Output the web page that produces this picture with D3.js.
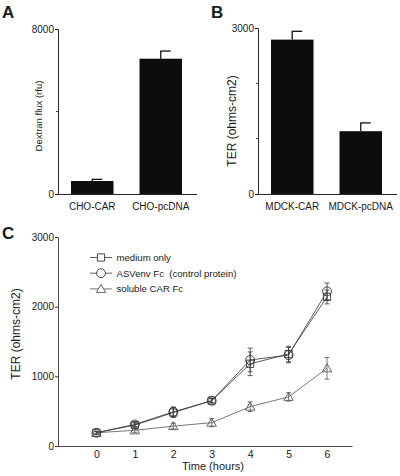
<!DOCTYPE html>
<html><head><meta charset="utf-8">
<script src="https://cdn.jsdelivr.net/npm/d3@7"></script>
<style>
html,body{margin:0;padding:0;background:#fff;}
text{font-family:"Liberation Sans",Arial,Helvetica,sans-serif;fill:#1a1a1a;}
</style></head>
<body><svg id="c" width="400" height="476"></svg>
<script>
// Panel A data
const catsA = ["CHO-CAR", "CHO-pcDNA"];
const valsA = [630, 6560];
const errA = [80, 370];
const ticksA = [0, 8000];
const minorA = [4000];
// Panel B data
const catsB = ["MDCK-CAR", "MDCK-pcDNA"];
const valsB = [2790, 1135];
const errB = [150, 150];
const ticksB = [0, 3000];
const minorB = [1000, 2000];
// Panel C data
const hours = [0, 1, 2, 3, 4, 5, 6];
const ticksCy = [0, 1000, 2000, 3000];
const seriesNames = ["medium only", "ASVenv Fc  (control protein)", "soluble CAR Fc"];
const medium = [190, 300, 480, 650, 1180, 1320, 2140];
const mediumErr = [20, 30, 70, 30, 170, 110, 100];
const asvenv = [190, 310, 490, 650, 1235, 1305, 2220];
const asvenvErr = [20, 30, 70, 30, 170, 110, 120];
const soluble = [190, 225, 285, 335, 565, 705, 1115];
const solubleErr = [20, 30, 40, 60, 70, 60, 155];

const svg = d3.select("#c");
const ink = "#111";

function barPanel(g, cats, vals, errs, ticks, minor, yMax, x0, x1, yTop, letter, letterX, ylab, ylabX, ylabY, ylabSize) {
  const x = d3.scaleBand().domain(cats).range([x0, x1 - 2]).paddingInner(0.38).paddingOuter(0.19);
  const y = d3.scaleLinear().domain([0, yMax]).range([194, yTop]);
  const ya = g.append("g").attr("transform", `translate(${x0},0)`)
    .call(d3.axisLeft(y).tickValues(ticks).tickSize(3).tickPadding(1).tickFormat(d3.format("d")));
  ya.select(".domain").attr("stroke", ink).attr("stroke-width", 0.9);
  ya.selectAll(".tick line").attr("stroke", ink);
  ya.selectAll("text").attr("font-size", 10).attr("fill", "#1a1a1a").style("font-family", "Liberation Sans, Arial");
  g.selectAll(".minor").data(minor).join("line")
    .attr("x1", x0 - 2).attr("x2", x0).attr("y1", d => y(d)).attr("y2", d => y(d))
    .attr("stroke", ink).attr("stroke-width", 0.8);
  g.append("line").attr("x1", x0).attr("x2", x1).attr("y1", 194.5).attr("y2", 194.5)
    .attr("stroke", ink).attr("stroke-width", 0.9);
  g.selectAll(".bar").data(cats).join("rect")
    .attr("x", d => x(d)).attr("width", x.bandwidth())
    .attr("y", (d, i) => y(vals[i])).attr("height", (d, i) => 194 - y(vals[i]))
    .attr("fill", "#0d0d0d");
  cats.forEach((c, i) => {
    const cx = x(c) + x.bandwidth() / 2;
    g.append("line").attr("x1", cx).attr("x2", cx).attr("y1", y(vals[i])).attr("y2", y(vals[i] + errs[i]))
      .attr("stroke", ink).attr("stroke-width", 1.3);
    g.append("line").attr("x1", cx - 0.5).attr("x2", cx + 10).attr("y1", y(vals[i] + errs[i])).attr("y2", y(vals[i] + errs[i]))
      .attr("stroke", ink).attr("stroke-width", 1.3);
  });
  g.selectAll(".cl").data(cats).join("text")
    .attr("x", d => x(d) + x.bandwidth() / 2).attr("y", 210)
    .attr("text-anchor", "middle").attr("font-size", 10).text(d => d);
  g.append("text").attr("x", letterX).attr("y", 18).attr("font-size", 17).attr("font-weight", "bold").text(letter);
  g.append("text").attr("transform", `translate(${ylabX},${ylabY}) rotate(-90)`)
    .attr("text-anchor", "middle").attr("font-size", ylabSize).text(ylab);
}

barPanel(svg.append("g"), catsA, valsA, errA, ticksA, minorA, 8000, 58, 197, 29, "A", 2, "Dextran flux (rfu)", 42, 116, 9.5);
barPanel(svg.append("g"), catsB, valsB, errB, ticksB, minorB, 3000, 258, 397, 28, "B", 211, "TER (ohms-cm2)", 236, 121, 12);

// Panel C
const gC = svg.append("g");
const xC = d3.scaleLinear().domain([-1, 6.65]).range([58, 352]);
const yC = d3.scaleLinear().domain([0, 3000]).range([446, 237]);
const yaC = gC.append("g").attr("transform", "translate(58,0)")
  .call(d3.axisLeft(yC).tickValues(ticksCy).tickSize(3).tickPadding(1).tickFormat(d3.format("d")));
yaC.select(".domain").attr("stroke", "#333").attr("stroke-width", 0.9);
yaC.selectAll(".tick line").attr("stroke", "#333");
yaC.selectAll("text").attr("font-size", 10).attr("fill", "#1a1a1a");
const xaC = gC.append("g").attr("transform", "translate(0,446)")
  .call(d3.axisBottom(xC).tickValues(hours).tickSize(0).tickPadding(5).tickFormat(d3.format("d")));
xaC.select(".domain").attr("stroke", "#333").attr("stroke-width", 0.9);
xaC.selectAll("text").attr("font-size", 10.5).attr("fill", "#1a1a1a");
gC.append("text").attr("x", 213).attr("y", 470).attr("text-anchor", "middle").attr("font-size", 11).text("Time (hours)");
gC.append("text").attr("transform", "translate(20,334) rotate(-90)").attr("text-anchor", "middle")
  .attr("font-size", 12).text("TER (ohms-cm2)");
gC.append("text").attr("x", 2).attr("y", 239).attr("font-size", 17).attr("font-weight", "bold").text("C");

const series = [
  { name: seriesNames[0], vals: medium, errs: mediumErr, shape: "square", color: "#333" },
  { name: seriesNames[1], vals: asvenv, errs: asvenvErr, shape: "circle", color: "#333" },
  { name: seriesNames[2], vals: soluble, errs: solubleErr, shape: "triangle", color: "#555" }
];
const symPath = {
  square: d3.symbol().type(d3.symbolSquare).size(52)(),
  circle: d3.symbol().type(d3.symbolCircle).size(62)(),
  triangle: d3.symbol().type(d3.symbolTriangle).size(38)()
};
const line = d3.line().x((d, i) => xC(hours[i])).y(d => yC(d));
series.forEach(s => {
  gC.append("path").attr("d", line(s.vals)).attr("fill", "none").attr("stroke", s.color).attr("stroke-width", 0.8);
});
series.forEach(s => {
  s.vals.forEach((v, i) => {
    const cx = xC(hours[i]);
    const t = yC(v + s.errs[i]), b = yC(v - s.errs[i]);
    gC.append("line").attr("x1", cx).attr("x2", cx).attr("y1", t).attr("y2", b).attr("stroke", s.color).attr("stroke-width", 0.8);
    [t, b].forEach(yy => gC.append("line").attr("x1", cx - 2.5).attr("x2", cx + 2.5).attr("y1", yy).attr("y2", yy)
      .attr("stroke", s.color).attr("stroke-width", 0.8));
  });
});
series.forEach(s => {
  gC.selectAll(null).data(s.vals).join("path")
    .attr("transform", (d, i) => `translate(${xC(hours[i])},${yC(d) + (s.shape === "triangle" ? 0.8 : 0)})`)
    .attr("d", symPath[s.shape]).attr("fill", "none").attr("stroke", s.color).attr("stroke-width", 0.9);
});
series.forEach((s, i) => {
  const ly = 257.5 + i * 15.7;
  gC.append("line").attr("x1", 90).attr("x2", 112).attr("y1", ly).attr("y2", ly).attr("stroke", s.color).attr("stroke-width", 0.8);
  gC.append("path").attr("transform", `translate(101,${ly + (s.shape === "triangle" ? 0.8 : 0)})`)
    .attr("d", symPath[s.shape]).attr("fill", "#fff").attr("stroke", s.color).attr("stroke-width", 0.9);
  gC.append("text").attr("x", 116.5).attr("y", ly + 3.5).attr("font-size", 9.6).style("white-space", "pre").text(s.name);
});
</script></body></html>
